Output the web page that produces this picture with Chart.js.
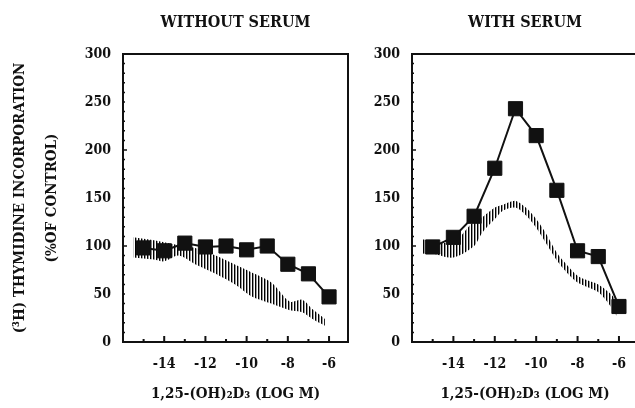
<!DOCTYPE html>
<html>
<head>
<meta charset="utf-8">
<script src="https://cdn.jsdelivr.net/npm/chart.js@4"></script>
<style>
  html, body { margin: 0; padding: 0; background: #fff; overflow: hidden; width: 635px; height: 408px; }
  canvas { position: absolute; top: 0; }
  #left { left: 0; }
  #right { left: 360px; }
</style>
</head>
<body>
<canvas id="left" width="360" height="408"></canvas>
<canvas id="right" width="290" height="408"></canvas>
<script>
// 1,25-(OH)2D3 concentration, log M
const doses = [-15, -14, -13, -12, -11, -10, -9, -8, -7, -6];

// thymidine incorporation, % of control
const withoutSerum = [98, 95, 103, 99, 100, 96, 100, 81, 71, 47];
const withSerum = [99, 109, 131, 181, 243, 215, 158, 95, 89, 37];

// hatched band
const bandNoSerumX = [-15.5, -14.5, -14, -13.3, -12.5, -11.5, -10.5, -9.8, -8.8, -7.9, -7.3, -6.8, -6.2];
const bandNoSerumHi = [109, 106, 104, 101, 98, 90, 80, 73, 62, 42, 44, 34, 24];
const bandNoSerumLo = [88, 86, 84, 90, 81, 71, 59, 48, 40, 33, 31, 24, 17];

const bandSerumX = [-15.5, -15, -14, -13, -12.6, -12, -11.6, -11, -10.5, -10, -9.5, -9, -8.5, -8, -7.5, -7, -6.5, -6.1];
const bandSerumHi = [107, 105, 104, 126, 130, 140, 143, 147, 140, 128, 112, 93, 80, 69, 64, 60, 52, 43];
const bandSerumLo = [92, 92, 88, 100, 114, 128, 137, 140, 132, 119, 102, 85, 72, 62, 57, 52, 40, 27];

const titles = ['WITHOUT SERUM', 'WITH SERUM'];
const yTitle = ['(³H) THYMIDINE INCORPORATION', '(%OF CONTROL)'];
const xTitle = '1,25-(OH)₂D₃ (LOG M)';

const INK = '#111';
const FAMILY = "'DejaVu Serif Condensed', 'DejaVu Serif', serif";

function font(size, lineHeight) {
  return { family: FAMILY, size: size, weight: 'bold', lineHeight: lineHeight };
}

function zip(xs, ys) {
  return xs.map((x, i) => ({ x: x, y: ys[i] }));
}

// vertical hatching used for the band
function hatch() {
  const c = document.createElement('canvas');
  c.width = 3;
  c.height = 1;
  const g = c.getContext('2d');
  g.fillStyle = '#000';
  g.fillRect(0, 0, 1, 1);
  g.fillStyle = '#999';
  g.fillRect(1, 0, 1, 1);
  return g.createPattern(c, 'repeat');
}

// top/right frame and the small inward tick marks
const framePlugin = {
  id: 'frame',
  afterDraw(chart) {
    const { ctx, chartArea: a, scales: { x, y } } = chart;
    ctx.save();
    ctx.strokeStyle = INK;
    ctx.lineWidth = 2;
    ctx.beginPath();
    ctx.moveTo(a.left, a.top);
    ctx.lineTo(a.right, a.top);
    ctx.lineTo(a.right, a.bottom);
    ctx.stroke();

    ctx.beginPath();
    x.ticks.forEach(t => {
      if (!Number.isInteger(t.value) || t.value < -15 || t.value > -6) return;
      const px = x.getPixelForValue(t.value);
      const len = t.value % 2 === 0 ? 6 : 3;
      ctx.moveTo(px, a.bottom);
      ctx.lineTo(px, a.bottom - len);
    });
    ctx.stroke();

    ctx.lineWidth = 1.5;
    ctx.beginPath();
    y.ticks.forEach(t => {
      if (t.value <= 0 || t.value >= 300) return;
      const py = y.getPixelForValue(t.value);
      const len = t.value % 100 === 0 ? 4 : 2;
      ctx.moveTo(a.left, py);
      ctx.lineTo(a.left + len, py);
    });
    ctx.stroke();
    ctx.restore();
  }
};

function makePanel(id, title, values, bandX, bandHi, bandLo, yWidth, rightPad, withYTitle) {
  const ctx = document.getElementById(id).getContext('2d');
  return new Chart(ctx, {
    type: 'line',
    data: {
      datasets: [
        {
          data: zip(doses, values),
          borderColor: INK,
          borderWidth: 2,
          pointStyle: 'rect',
          pointRadius: 10,
          pointBackgroundColor: INK,
          pointBorderColor: INK,
          pointBorderWidth: 1,
          fill: false
        },
        {
          data: zip(bandX, bandHi),
          borderWidth: 0,
          pointRadius: 0,
          tension: 0.3,
          fill: false
        },
        {
          data: zip(bandX, bandLo),
          borderWidth: 0,
          pointRadius: 0,
          tension: 0.3,
          fill: '-1',
          backgroundColor: hatch()
        }
      ]
    },
    options: {
      responsive: false,
      animation: false,
      events: [],
      layout: { padding: { left: 0, right: rightPad, top: 0, bottom: 0 } },
      plugins: {
        legend: { display: false },
        tooltip: { enabled: false },
        title: {
          display: true,
          text: title,
          fullSize: false,
          color: INK,
          font: font(16, '22px'),
          padding: { top: 12, bottom: 20 }
        }
      },
      scales: {
        x: {
          type: 'linear',
          min: -16,
          max: -5.08,
          grid: { display: false, drawTicks: false },
          border: { color: INK, width: 2 },
          ticks: {
            stepSize: 1,
            includeBounds: false,
            autoSkip: false,
            maxRotation: 0,
            padding: 14,
            color: INK,
            font: font(14),
            callback: v => (Number.isInteger(v) && v % 2 === 0 && v >= -14 && v <= -6) ? String(v) : ''
          },
          title: {
            display: true,
            text: xTitle,
            color: INK,
            font: font(15, '22px'),
            padding: { top: 0, bottom: 3 }
          },
          afterFit: s => { s.height = 66; }
        },
        y: {
          min: 0,
          max: 300,
          grid: { display: false, drawTicks: false },
          border: { color: INK, width: 2 },
          ticks: {
            stepSize: 10,
            autoSkip: false,
            padding: 12,
            color: INK,
            font: font(14),
            callback: v => v % 50 === 0 ? String(v) : ''
          },
          title: {
            display: withYTitle,
            text: yTitle,
            color: INK,
            font: font(15, '32px'),
            padding: { top: 4, bottom: 0 }
          },
          afterFit: s => { s.width = yWidth; }
        }
      }
    },
    plugins: [framePlugin]
  });
}

makePanel('left', titles[0], withoutSerum, bandNoSerumX, bandNoSerumHi, bandNoSerumLo, 123, 12, true);
makePanel('right', titles[1], withSerum, bandSerumX, bandSerumHi, bandSerumLo, 52, 12, false);
</script>
</body>
</html>
